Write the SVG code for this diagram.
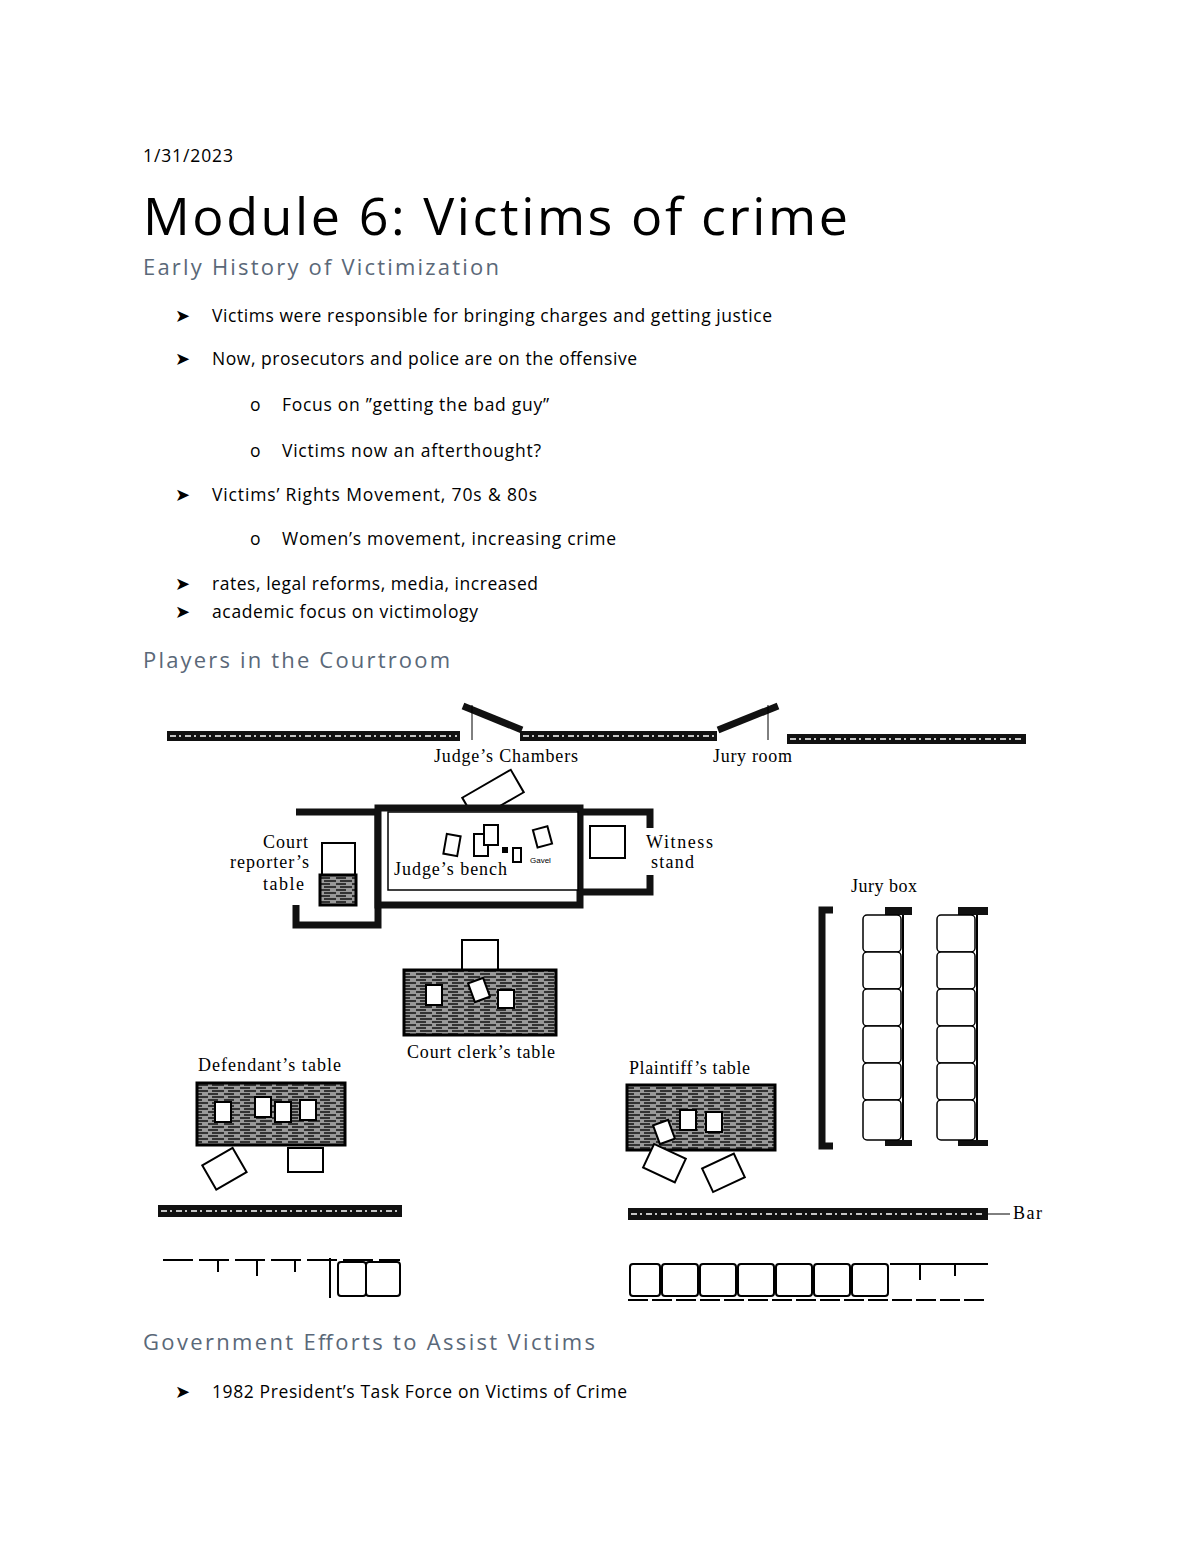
<svg xmlns="http://www.w3.org/2000/svg" width="1200" height="1553" viewBox="0 0 1200 1553">
<style>
.b{font-family:"Open Sans","Noto Sans",sans-serif;font-size:17.5px;fill:#000}
.h{font-family:"Open Sans","Noto Sans",sans-serif;font-size:22px;fill:#5a6878}
.s{font-family:"Liberation Serif",serif;font-size:18px;fill:#000}
.w{fill:#111}
.wl{stroke:#fff;stroke-width:1.5;stroke-dasharray:6 3 2 4}
.o{fill:#fff;stroke:#000;stroke-width:2}
.t{fill:url(#wood);stroke:#000;stroke-width:3}
</style>
<defs>
<pattern id="wood" width="16" height="6" patternUnits="userSpaceOnUse"><rect width="16" height="6" fill="#999"/><path d="M0 2 H10 M4 5 H16" stroke="#111" stroke-width="1.5"/></pattern>
</defs>
<rect width="1200" height="1553" fill="#fff"/>
<text class="b" x="143" y="162" textLength="90">1/31/2023</text>
<text x="143" y="235" font-family="Open Sans,Noto Sans,sans-serif" font-size="52" fill="#000" textLength="705">Module 6: Victims of crime</text>
<text class="h" x="143" y="275" textLength="356">Early History of Victimization</text>
<g class="b">
<text x="175" y="322">➤</text><text x="212" y="322" textLength="560">Victims were responsible for bringing charges and getting justice</text>
<text x="175" y="365">➤</text><text x="212" y="365" textLength="425">Now, prosecutors and police are on the offensive</text>
<text x="250" y="411">o</text><text x="282" y="411" textLength="267">Focus on ”getting the bad guy”</text>
<text x="250" y="457">o</text><text x="282" y="457" textLength="259">Victims now an afterthought?</text>
<text x="175" y="501">➤</text><text x="212" y="501" textLength="325">Victims’ Rights Movement, 70s &amp; 80s</text>
<text x="250" y="545">o</text><text x="282" y="545" textLength="334">Women’s movement, increasing crime</text>
<text x="175" y="590">➤</text><text x="212" y="590" textLength="326">rates, legal reforms, media, increased</text>
<text x="175" y="618">➤</text><text x="212" y="618" textLength="266">academic focus on victimology</text>
</g>
<text class="h" x="143" y="668" textLength="307">Players in the Courtroom</text>

<g id="walls">
<rect class="w" x="167" y="731" width="293" height="10"/><line class="wl" x1="170" y1="736" x2="457" y2="736"/>
<rect class="w" x="520" y="731" width="197" height="10"/><line class="wl" x1="523" y1="736" x2="714" y2="736"/>
<rect class="w" x="787" y="734" width="239" height="10"/><line class="wl" x1="790" y1="739" x2="1023" y2="739"/>
<line x1="463" y1="706" x2="522" y2="730" stroke="#111" stroke-width="7"/>
<line x1="718" y1="730" x2="778" y2="706" stroke="#111" stroke-width="7"/>
<line x1="472" y1="705" x2="472" y2="740" stroke="#000"/>
<line x1="768" y1="705" x2="768" y2="740" stroke="#000"/>
<text class="s" x="434" y="762" textLength="144">Judge’s Chambers</text>
<text class="s" x="713" y="762" textLength="79">Jury room</text>
</g>

<g id="bench">
<rect class="o" x="465" y="782" width="56" height="26" transform="rotate(-30 493 795)"/>
<path d="M296 812 H378 V925 H296 V905" fill="none" stroke="#111" stroke-width="7"/>
<rect x="378" y="808" width="202" height="97" fill="#fff" stroke="#111" stroke-width="7"/>
<rect x="388" y="812" width="190" height="78" fill="#fff" stroke="#000" stroke-width="1.5"/>
<path d="M580 812 H650 V828 M580 892 H650 V875" fill="none" stroke="#111" stroke-width="7"/>
<rect class="o" x="590" y="826" width="35" height="32"/>
<rect class="o" x="322" y="843" width="33" height="32"/>
<rect class="t" x="320" y="875" width="36" height="30"/>
<rect class="o" x="445" y="835" width="14" height="20" transform="rotate(10 452 845)"/>
<rect class="o" x="474" y="834" width="14" height="22"/>
<rect class="o" x="484" y="825" width="14" height="20"/>
<rect class="o" x="535" y="828" width="15" height="18" transform="rotate(-15 542 837)"/>
<rect x="502" y="847" width="6" height="6" fill="#000"/>
<rect class="o" x="513" y="848" width="8" height="14"/>
<text x="530" y="863" font-family="Liberation Sans,sans-serif" font-size="8">Gavel</text>
<text class="s" x="263" y="848" textLength="45">Court</text>
<text class="s" x="230" y="868" textLength="79">reporter’s</text>
<text class="s" x="263" y="890" textLength="41">table</text>
<text class="s" x="394" y="875" textLength="113">Judge’s bench</text>
<text class="s" x="646" y="848" textLength="67">Witness</text>
<text class="s" x="651" y="868" textLength="43">stand</text>
</g>

<g id="clerk">
<rect class="o" x="462" y="940" width="36" height="30"/>
<rect class="t" x="404" y="970" width="152" height="65"/>
<rect class="o" x="426" y="985" width="16" height="20"/>
<rect class="o" x="471" y="980" width="16" height="20" transform="rotate(-20 479 990)"/>
<rect class="o" x="498" y="990" width="16" height="18"/>
<text class="s" x="407" y="1058" textLength="148">Court clerk’s table</text>
</g>

<g id="defendant">
<text class="s" x="198" y="1071" textLength="143">Defendant’s table</text>
<rect class="t" x="197" y="1083" width="148" height="62"/>
<rect class="o" x="215" y="1102" width="16" height="20"/>
<rect class="o" x="255" y="1097" width="16" height="20"/>
<rect class="o" x="275" y="1102" width="16" height="20"/>
<rect class="o" x="300" y="1100" width="16" height="20"/>
<rect class="o" x="207" y="1155" width="35" height="28" transform="rotate(-30 224 1169)"/>
<rect class="o" x="288" y="1148" width="35" height="24"/>
</g>

<g id="plaintiff">
<text class="s" x="629" y="1074" textLength="121">Plaintiff’s table</text>
<rect class="t" x="627" y="1085" width="148" height="65"/>
<rect class="o" x="656" y="1122" width="16" height="20" transform="rotate(-20 664 1132)"/>
<rect class="o" x="680" y="1110" width="16" height="20"/>
<rect class="o" x="706" y="1112" width="16" height="20"/>
<rect class="o" x="647" y="1150" width="35" height="26" transform="rotate(25 664 1163)"/>
<rect class="o" x="706" y="1160" width="35" height="26" transform="rotate(-25 723 1173)"/>
</g>

<g id="jurybox">
<text class="s" x="851" y="892" textLength="66">Jury box</text>
<path d="M833 910 H822 V1146 H833" fill="none" stroke="#111" stroke-width="7"/>
<rect class="w" x="885" y="907" width="27" height="8"/><rect class="w" x="958" y="907" width="30" height="8"/>
<rect class="w" x="885" y="1140" width="27" height="6"/><rect class="w" x="958" y="1140" width="30" height="6"/>
<g fill="#fff" stroke="#000" stroke-width="1.5">
<rect x="863" y="915" width="38" height="37" rx="4"/><rect x="863" y="952" width="38" height="37" rx="4"/><rect x="863" y="989" width="38" height="37" rx="4"/><rect x="863" y="1026" width="38" height="37" rx="4"/><rect x="863" y="1063" width="38" height="37" rx="4"/><rect x="863" y="1100" width="38" height="40" rx="4"/>
<rect x="937" y="915" width="38" height="37" rx="4"/><rect x="937" y="952" width="38" height="37" rx="4"/><rect x="937" y="989" width="38" height="37" rx="4"/><rect x="937" y="1026" width="38" height="37" rx="4"/><rect x="937" y="1063" width="38" height="37" rx="4"/><rect x="937" y="1100" width="38" height="40" rx="4"/>
</g>
<line x1="903" y1="915" x2="903" y2="1140" stroke="#000" stroke-width="2"/>
<line x1="977" y1="915" x2="977" y2="1140" stroke="#000" stroke-width="2"/>
</g>

<g id="bar">
<rect class="w" x="158" y="1205" width="244" height="12"/><line class="wl" x1="161" y1="1211" x2="399" y2="1211"/>
<rect class="w" x="628" y="1208" width="360" height="12"/><line class="wl" x1="631" y1="1214" x2="985" y2="1214"/>
<line x1="988" y1="1214" x2="1010" y2="1214" stroke="#000"/>
<text class="s" x="1013" y="1219" textLength="29">Bar</text>
</g>

<g id="seats" fill="none" stroke="#000" stroke-width="2">
<line x1="163" y1="1260" x2="400" y2="1260" stroke-dasharray="30 6"/>
<line x1="330" y1="1258" x2="330" y2="1298"/>
<rect x="338" y="1262" width="28" height="34" rx="3"/><rect x="366" y="1262" width="34" height="34" rx="3"/>
<line x1="218" y1="1260" x2="218" y2="1272"/><line x1="257" y1="1260" x2="257" y2="1276"/><line x1="295" y1="1260" x2="295" y2="1272"/>
<rect x="630" y="1264" width="30" height="32" rx="3"/><rect x="662" y="1264" width="36" height="32" rx="3"/><rect x="700" y="1264" width="36" height="32" rx="3"/><rect x="738" y="1264" width="36" height="32" rx="3"/><rect x="776" y="1264" width="36" height="32" rx="3"/><rect x="814" y="1264" width="36" height="32" rx="3"/><rect x="852" y="1264" width="36" height="32" rx="3"/>
<path d="M890 1264 H988 M920 1264 V1280 M955 1264 V1276"/>
<line x1="628" y1="1300" x2="985" y2="1300" stroke-dasharray="20 4"/>
</g>

<text class="h" x="143" y="1350" textLength="452">Government Efforts to Assist Victims</text>
<text class="b" x="175" y="1398">➤</text><text class="b" x="212" y="1398" textLength="415">1982 President’s Task Force on Victims of Crime</text>
</svg>
